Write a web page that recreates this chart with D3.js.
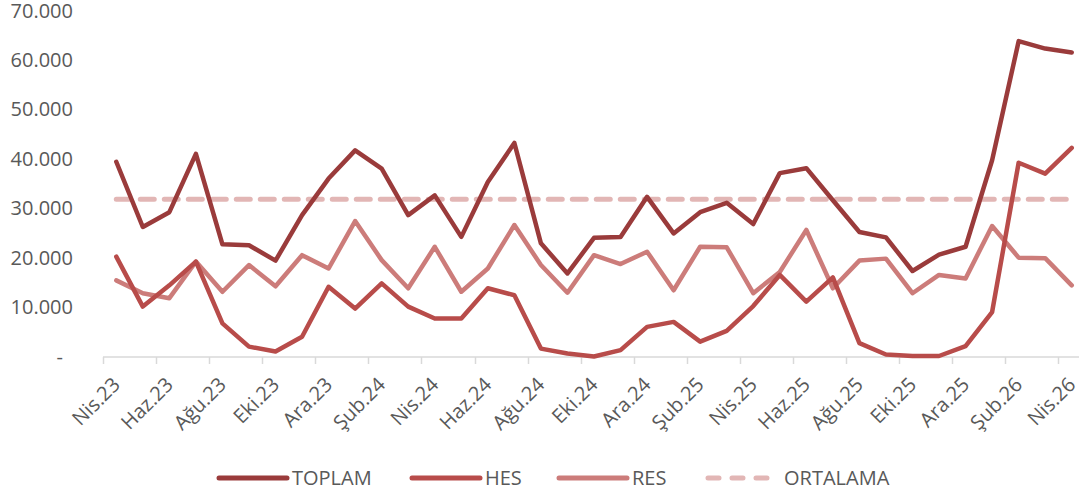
<!DOCTYPE html>
<html>
<head>
<meta charset="utf-8">
<script src="https://cdn.jsdelivr.net/npm/d3@7"></script>
<style>
    body { margin: 0; background: #fff; }
    svg { display: block; }
    text { font-family: "Open Sans", sans-serif; fill: #595959; }
</style>
</head>
<body>
<div id="chart"></div>
<script>
// months Nis.23 .. Nis.26
const months = [
    "Nis.23", "May.23", "Haz.23", "Tem.23", "Ağu.23", "Eyl.23", "Eki.23", "Kas.23", "Ara.23",
    "Oca.24", "Şub.24", "Mar.24", "Nis.24", "May.24", "Haz.24", "Tem.24", "Ağu.24", "Eyl.24",
    "Eki.24", "Kas.24", "Ara.24", "Oca.25", "Şub.25", "Mar.25", "Nis.25", "May.25", "Haz.25",
    "Tem.25", "Ağu.25", "Eyl.25", "Eki.25", "Kas.25", "Ara.25", "Oca.26", "Şub.26", "Mar.26", "Nis.26"
];

const toplam = [
    39400, 26200, 29200, 41000, 22700, 22500, 19400, 28600, 36000,
    41700, 38000, 28600, 32600, 24200, 35300, 43200, 22900, 16800,
    24000, 24200, 32300, 24900, 29200, 31100, 26800, 37100, 38100,
    31600, 25200, 24100, 17300, 20600, 22200, 39700, 63800, 62300, 61500
];

const hes = [
    20200, 10100, 14400, 19200, 6700, 2000, 1000, 4000, 14100,
    9700, 14800, 10100, 7700, 7700, 13800, 12400, 1600, 600,
    0, 1300, 6000, 7000, 3000, 5200, 10200, 16500, 11100,
    16000, 2700, 400, 100, 100, 2100, 9000, 39200, 37000, 42200
];

const res = [
    15400, 12800, 11800, 19200, 13100, 18500, 14200, 20500, 17800,
    27400, 19500, 13800, 22200, 13100, 17800, 26600, 18500, 12900,
    20500, 18700, 21200, 13400, 22200, 22100, 12800, 17100, 25600,
    13800, 19400, 19800, 12800, 16500, 15800, 26400, 20000, 19900, 14400
];

const ortalama = 31800;

const yTicks = [0, 10000, 20000, 30000, 40000, 50000, 60000, 70000];

const series = [
    {name: "TOPLAM", values: toplam, color: "#9a3b3b", dash: null},
    {name: "HES", values: hes, color: "#b84c4a", dash: null},
    {name: "RES", values: res, color: "#cc7c7a", dash: null},
    {name: "ORTALAMA", values: months.map(() => ortalama), color: "#e2b6b5", dash: "14,10"},
];

const width = 1079, height = 499;

const svg = d3.select("#chart").append("svg")
    .attr("width", width)
    .attr("height", height);

const x = d3.scaleBand()
    .domain(months)
    .range([103, 1085]);

const y = d3.scaleLinear()
    .domain([0, 70000])
    .range([356.5, 10.5]);

const fmt = v => v === 0 ? "-" : d3.format(",")(v).replace(/,/g, ".");

// y labels
svg.append("g")
    .selectAll("text")
    .data(yTicks)
    .join("text")
    .attr("x", d => d === 0 ? 63 : 73)
    .attr("y", d => y(d))
    .attr("dy", "0.35em")
    .attr("text-anchor", "end")
    .style("font-size", "20px")
    .text(fmt);

// x axis line + ticks every two months
const axisY = y(0) + 0.5;
svg.append("line")
    .attr("x1", x.range()[0]).attr("x2", x.range()[1])
    .attr("y1", axisY).attr("y2", axisY)
    .attr("stroke", "#d9d9d9").attr("stroke-width", 1.5);

const tickMonths = months.filter((m, i) => i % 2 === 0);
svg.append("g")
    .selectAll("line")
    .data(tickMonths)
    .join("line")
    .attr("x1", d => Math.round(x(d)) + 0.5)
    .attr("x2", d => Math.round(x(d)) + 0.5)
    .attr("y1", axisY)
    .attr("y2", axisY + 7)
    .attr("stroke", "#d9d9d9").attr("stroke-width", 1.5);

svg.append("g")
    .selectAll("text")
    .data(tickMonths)
    .join("text")
    .attr("transform", d => `translate(${x(d) + x.bandwidth() / 2 + 5},${axisY + 29}) rotate(-45)`)
    .attr("text-anchor", "end")
    .style("font-size", "20px")
    .text(d => d);

// lines
const line = d3.line()
    .x((d, i) => x(months[i]) + x.bandwidth() / 2)
    .y(d => y(d));

svg.append("g")
    .selectAll("path")
    .data(series.slice().reverse())
    .join("path")
    .attr("d", d => line(d.values))
    .attr("fill", "none")
    .attr("stroke", d => d.color)
    .attr("stroke-width", d => d.dash ? 5 : 4.5)
    .attr("stroke-linejoin", "round")
    .attr("stroke-linecap", "round")
    .attr("stroke-dasharray", d => d.dash);

// legend
const legendPos = [217, 410, 557, 706];
const legend = svg.append("g")
    .selectAll("g")
    .data(series)
    .join("g")
    .attr("transform", (d, i) => `translate(${legendPos[i]},478)`);

legend.append("line")
    .attr("x1", 2).attr("x2", d => d.dash ? 66 : 70)
    .attr("stroke", d => d.color)
    .attr("stroke-width", 5)
    .attr("stroke-linecap", "round")
    .attr("stroke-dasharray", d => d.dash ? "11,13" : null);

legend.append("text")
    .attr("x", d => d.dash ? 78 : 75)
    .attr("dy", "0.35em")
    .style("font-size", "20px")
    .text(d => d.name);
</script>
</body>
</html>
